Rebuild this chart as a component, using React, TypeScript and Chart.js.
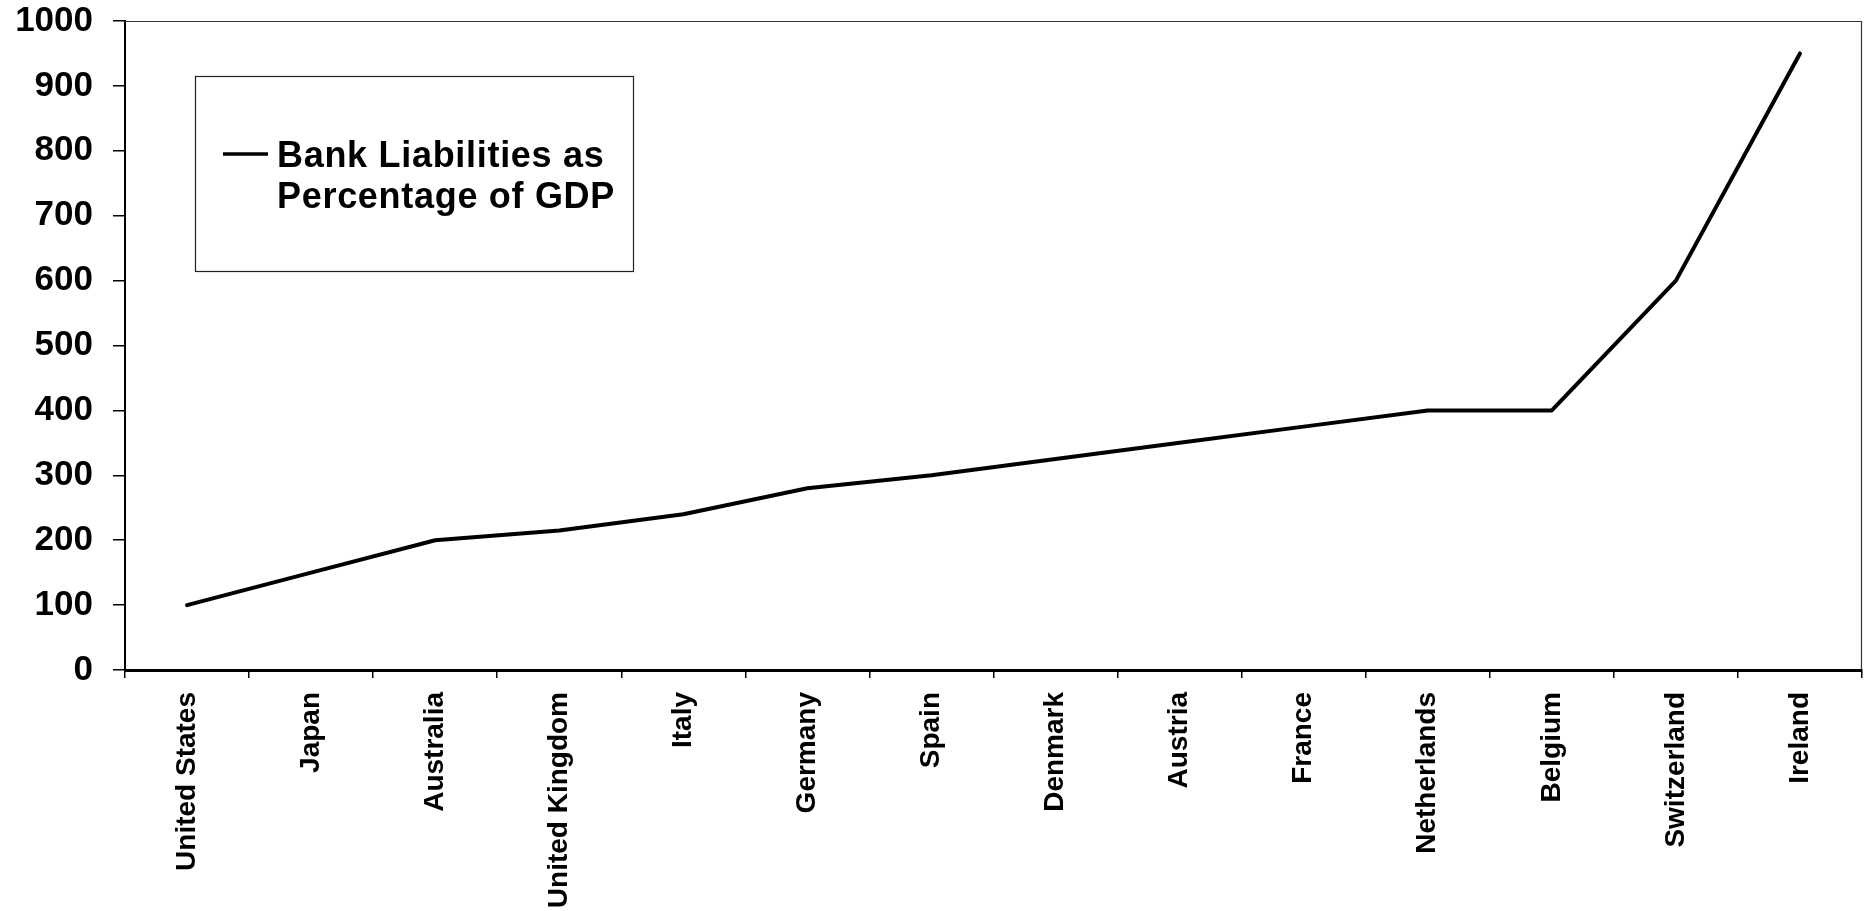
import React, { useEffect, useRef } from "react";
import { Chart, registerables } from "chart.js";

Chart.register(...registerables);

const categories = [
  "United States",
  "Japan",
  "Australia",
  "United Kingdom",
  "Italy",
  "Germany",
  "Spain",
  "Denmark",
  "Austria",
  "France",
  "Netherlands",
  "Belgium",
  "Switzerland",
  "Ireland",
];
const liabilities = [100, 150, 200, 215, 240, 280, 300, 325, 350, 375, 400, 400, 600, 950];
const seriesLabel = "Bank Liabilities as Percentage of GDP";
const legendLines = ["Bank Liabilities as", "Percentage of GDP"];
const yMin = 0;
const yMax = 1000;
const yStep = 100;

const FONT = "'Liberation Sans', Arial, Helvetica, sans-serif";

const framePlugin = {
  id: "frameAndLegend",
  afterDraw(chart: any) {
    const ctx = chart.ctx;
    const { left, right, top, bottom } = chart.chartArea;
    ctx.save();
    // top and right frame lines
    ctx.strokeStyle = "#333";
    ctx.lineWidth = 1.2;
    ctx.beginPath();
    ctx.moveTo(left, top + 0.5);
    ctx.lineTo(right - 0.5, top + 0.5);
    ctx.lineTo(right - 0.5, bottom);
    ctx.stroke();

    // legend box
    const bx = 195, by = 76, bw = 438, bh = 195;
    ctx.fillStyle = "#fff";
    ctx.fillRect(bx, by, bw, bh);
    ctx.strokeStyle = "#222";
    ctx.lineWidth = 1.2;
    ctx.strokeRect(bx + 0.5, by + 0.5, bw, bh);

    // legend line sample
    ctx.strokeStyle = "#000";
    ctx.lineWidth = 3.5;
    ctx.lineCap = "butt";
    ctx.beginPath();
    ctx.moveTo(223, 154);
    ctx.lineTo(268, 154);
    ctx.stroke();

    // legend text
    ctx.fillStyle = "#000";
    ctx.font = `bold 36px ${FONT}`;
    try {
      (ctx as any).letterSpacing = "0.7px";
    } catch (e) {}
    ctx.textAlign = "left";
    ctx.textBaseline = "alphabetic";
    ctx.fillText(legendLines[0], 277, 167);
    ctx.fillText(legendLines[1], 277, 208);
    ctx.restore();
  },
};

export default function App() {
  const canvasRef = useRef<HTMLCanvasElement | null>(null);

  useEffect(() => {
    const canvas = canvasRef.current;
    if (!canvas) return;
    const chart = new Chart(canvas, {
      type: "line",
      data: {
        labels: categories,
        datasets: [
          {
            label: seriesLabel,
            data: liabilities,
            borderColor: "#000",
            backgroundColor: "#000",
            borderWidth: 4,
            pointRadius: 0,
            pointHoverRadius: 0,
            tension: 0,
            fill: false,
            borderCapStyle: "round",
            borderJoinStyle: "round",
          },
        ],
      },
      options: {
        animation: false,
        responsive: false,
        events: [],
        layout: { padding: { top: 21, right: 5, left: 0, bottom: 0 } },
        plugins: {
          legend: { display: false },
          tooltip: { enabled: false },
          title: { display: false },
        },
        scales: {
          x: {
            type: "category",
            offset: true,
            grid: {
              offset: true,
              drawOnChartArea: false,
              drawTicks: true,
              tickLength: 8,
              color: "#000",
              lineWidth: 1.5,
            },
            border: { display: true, color: "#000", width: 3 },
            ticks: {
              autoSkip: false,
              maxRotation: 90,
              minRotation: 90,
              padding: 14,
              color: "#000",
              font: { family: FONT, size: 28, weight: "bold" },
            },
            afterFit: (s: any) => {
              s.height = 911 - 670;
              s.paddingLeft = 0;
              s.paddingRight = 0;
            },
          },
          y: {
            min: yMin,
            max: yMax,
            grid: {
              drawOnChartArea: false,
              drawTicks: true,
              tickLength: 12,
              color: "#000",
              lineWidth: 1.5,
            },
            border: { display: true, color: "#000", width: 2 },
            ticks: {
              stepSize: yStep,
              padding: 20,
              color: "#000",
              font: { family: FONT, size: 35, weight: "bold" },
              callback: (v: any) => String(v),
            },
            afterFit: (s: any) => {
              s.width = 125;
              s.paddingTop = 0;
              s.paddingBottom = 0;
            },
          },
        },
      },
      plugins: [framePlugin],
    } as any);
    return () => chart.destroy();
  }, []);

  return (
    <div style={{ position: "absolute", left: 0, top: 0, width: 1867, height: 911, background: "#fff" }}>
      <canvas ref={canvasRef} width={1867} height={911} style={{ display: "block", width: 1867, height: 911 }} />
    </div>
  );
}
